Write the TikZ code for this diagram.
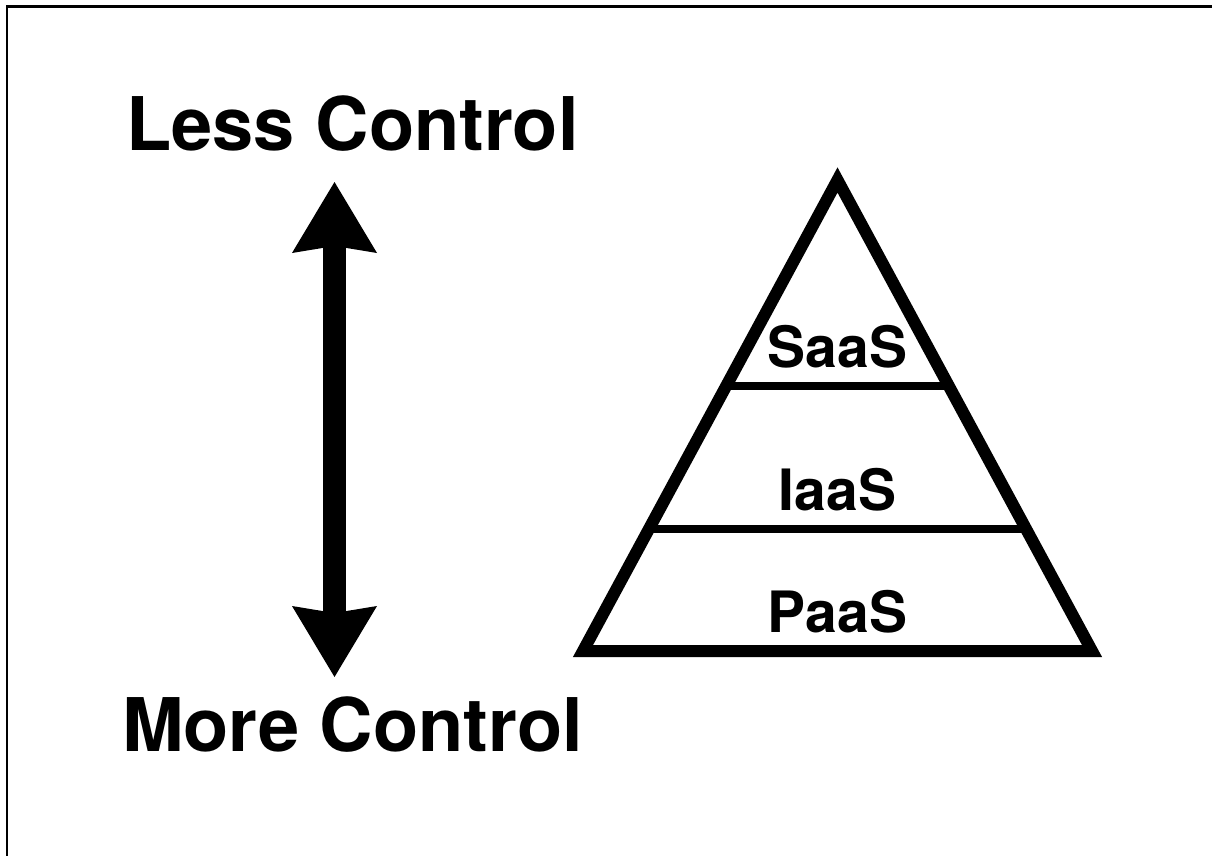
\documentclass[tikz,border=0pt]{standalone}
\usepackage{fontspec}
\setmainfont{TeX Gyre Heros}
\usetikzlibrary{arrows.meta,calc}
\tikzset{
>={Stealth[width=85pt,length=71pt,inset=7pt,line width=0pt]},
ctrl/.style={anchor=base,inner sep=0pt,font=\fontsize{74}{80}\selectfont\bfseries},
tier/.style={anchor=base,inner sep=0pt,font=\fontsize{57}{62}\selectfont\bfseries},
pyr/.style={line width=12pt,line join=miter},
layer/.style={line width=8pt},
updown/.style={<->,line width=23pt},
border/.style={line width=2.5pt}
}
\begin{document}
\begin{tikzpicture}[x=1pt,y=-1pt]
\useasboundingbox (0,0) rectangle (1212,856);
\draw[border] (7,856) -- (7,6.3) -- (1212,6.3);

% control scale
\node[ctrl] (less) at (352.5,150) {Less Control};
\node[ctrl] (more) at (352.5,751) {More Control};
\coordinate (up) at (334.5,182);
\coordinate (down) at (334.5,677);
\draw[updown] (down) -- (up);

% pyramid
\coordinate (apex) at (837.5,180);
\coordinate (bl) at (583,651);
\coordinate (br) at (1092,651);
\draw[pyr] (apex) -- (bl) -- (br) -- cycle;
\draw[layer] ($(apex)!0.437!(bl)$) -- ($(apex)!0.437!(br)$);
\draw[layer] ($(apex)!0.742!(bl)$) -- ($(apex)!0.742!(br)$);
\node[tier] (saas) at (837.5,367) {SaaS};
\node[tier] (iaas) at (837.5,510) {IaaS};
\node[tier] (paas) at (837.5,632) {PaaS};
\end{tikzpicture}
\end{document}
